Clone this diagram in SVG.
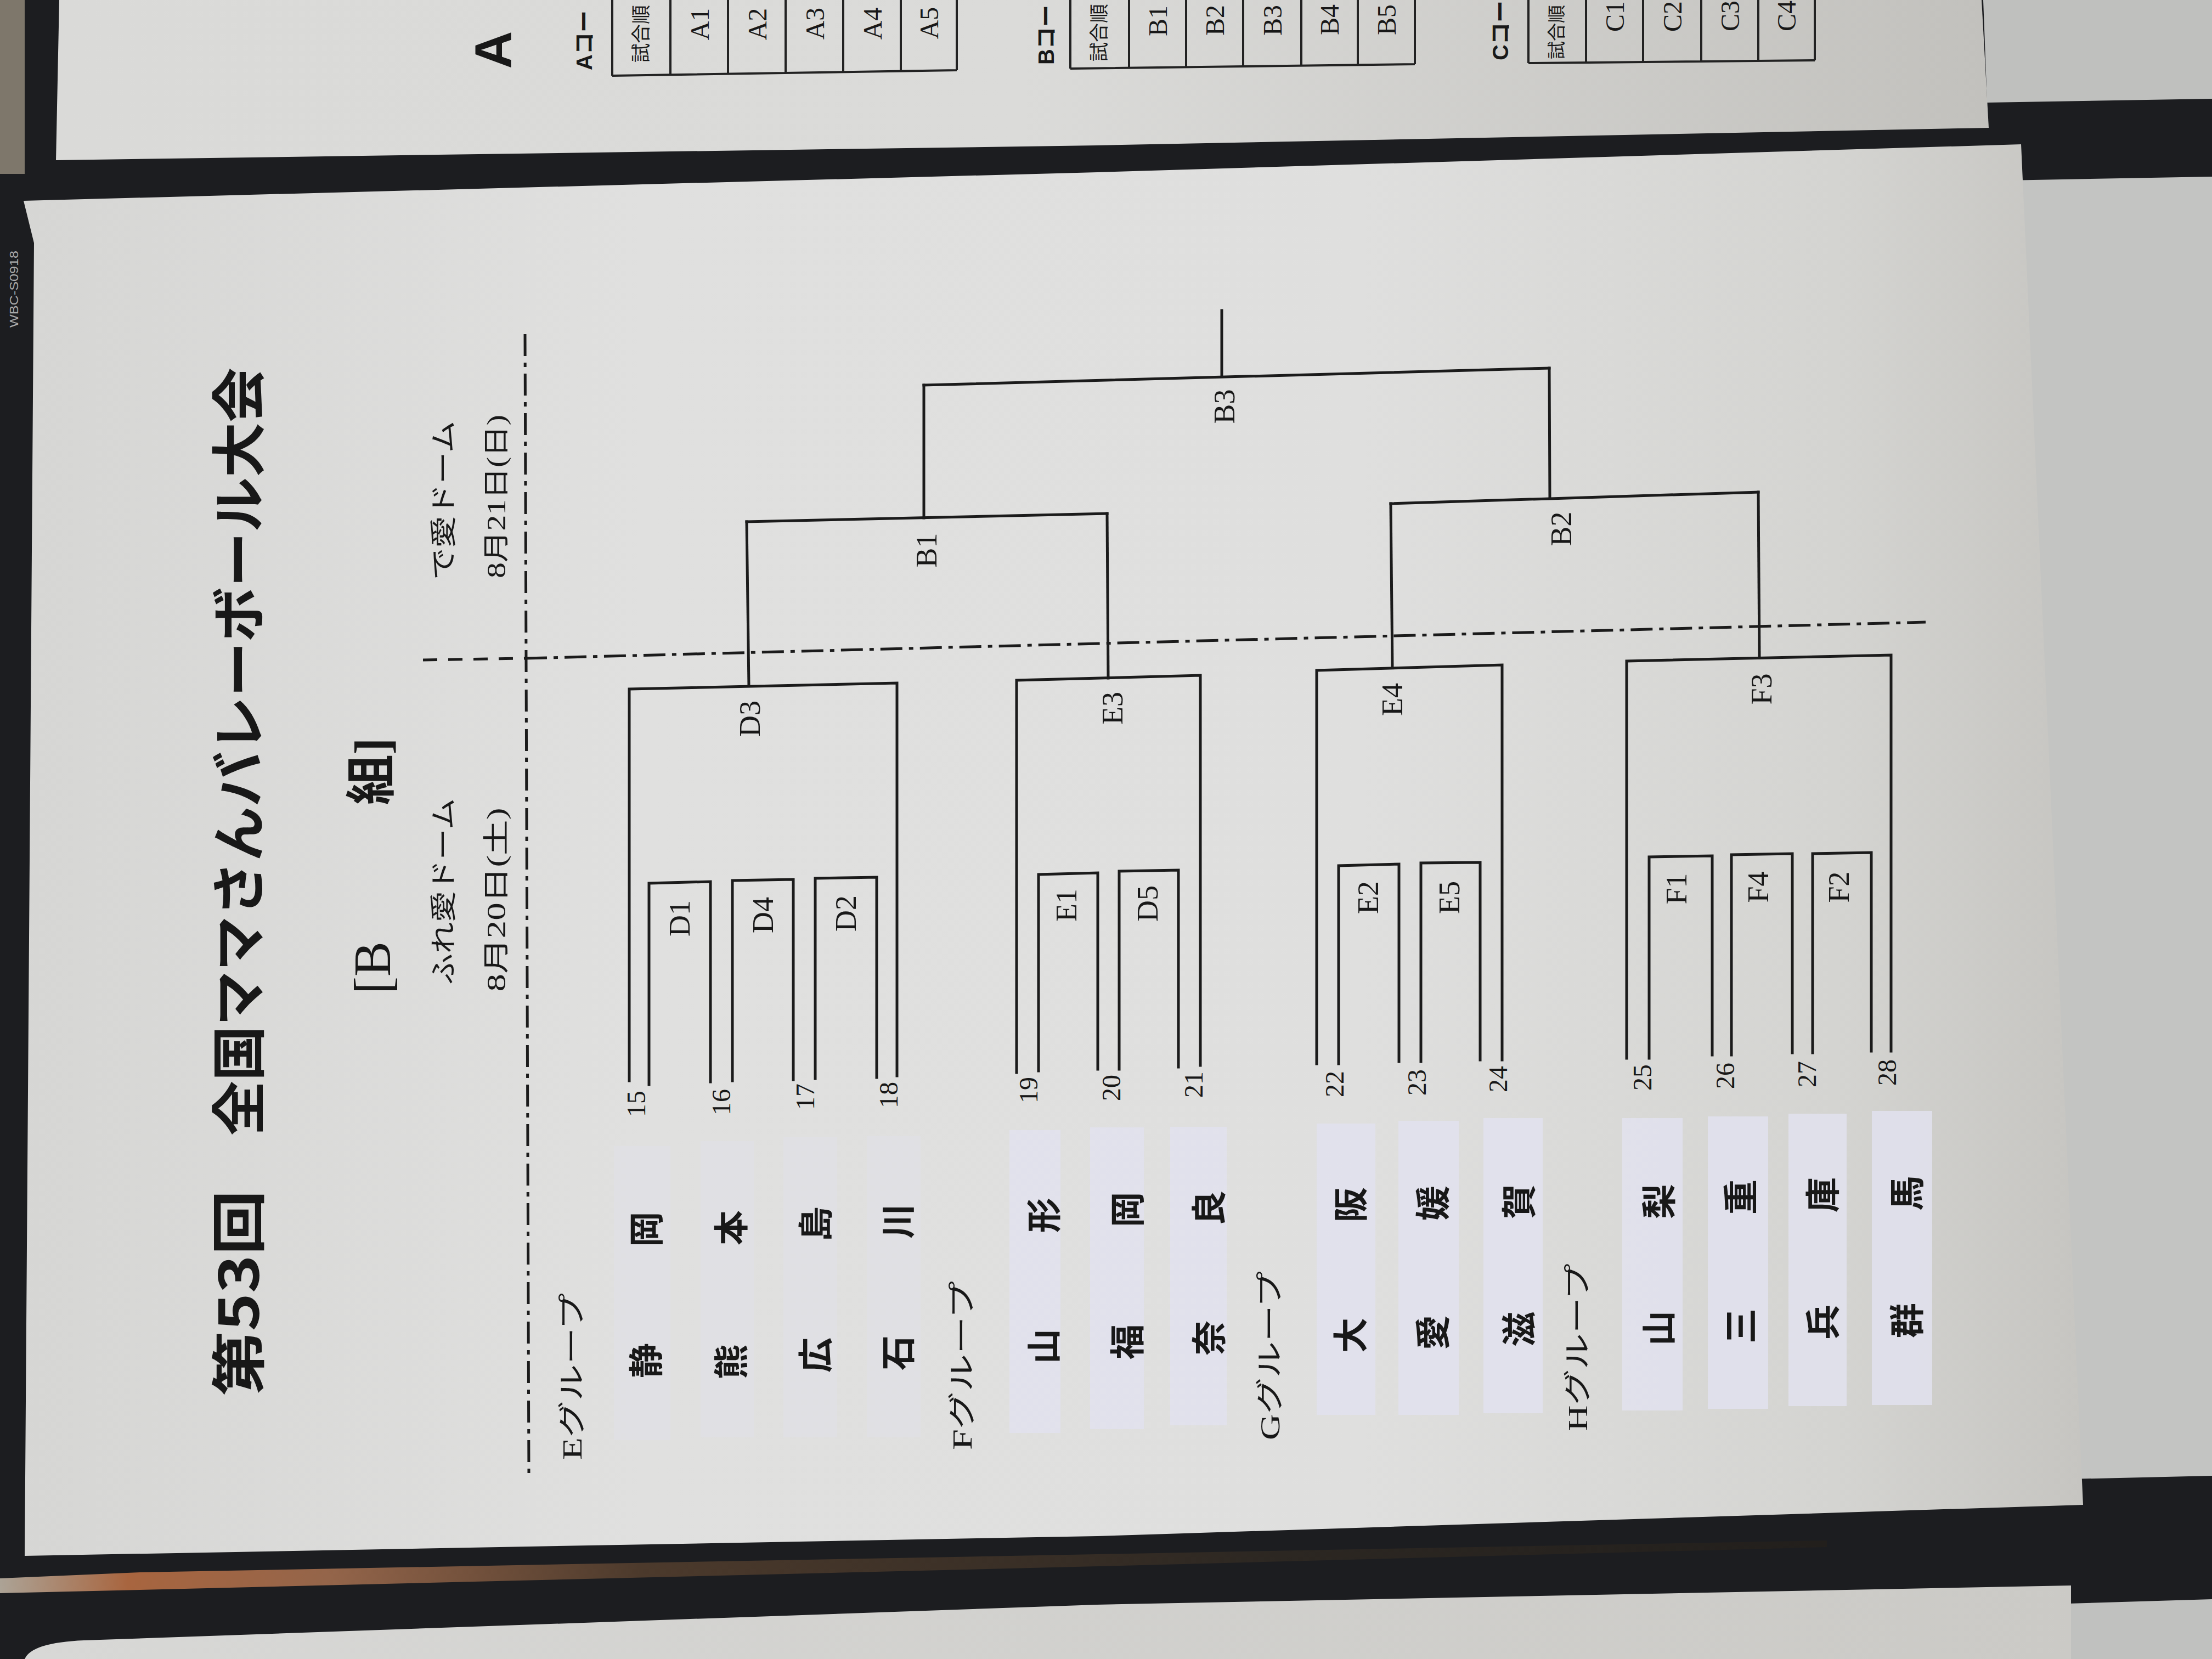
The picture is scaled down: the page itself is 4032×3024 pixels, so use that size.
<svg xmlns="http://www.w3.org/2000/svg" width="4032" height="3024" viewBox="0 0 4032 3024">
<defs>
<linearGradient id="paperG" x1="0" y1="0" x2="1" y2="0">
<stop offset="0" stop-color="#d6d6d4"/><stop offset="0.3" stop-color="#e0e0df"/><stop offset="0.65" stop-color="#dfdfde"/><stop offset="0.88" stop-color="#d4d4d1"/><stop offset="1" stop-color="#c6c5c1"/>
</linearGradient>
<linearGradient id="topG" x1="0" y1="0" x2="1" y2="0">
<stop offset="0" stop-color="#dadad8"/><stop offset="0.5" stop-color="#dbdbd9"/><stop offset="1" stop-color="#c2c1bd"/>
</linearGradient>
<linearGradient id="botG" x1="0" y1="0" x2="1" y2="0">
<stop offset="0" stop-color="#d8d8d6"/><stop offset="1" stop-color="#cbcac6"/>
</linearGradient>
<linearGradient id="reflG" x1="0" y1="0" x2="1" y2="0">
<stop offset="0" stop-color="#aca396"/><stop offset="0.07" stop-color="#a8653f"/><stop offset="0.18" stop-color="#94654a"/><stop offset="0.35" stop-color="#4c3a2c"/><stop offset="0.7" stop-color="#2c2722"/><stop offset="1" stop-color="#221f1c"/>
</linearGradient>
<style>
.ln{stroke:#1b1b1b;stroke-width:5;fill:none;stroke-linejoin:miter;stroke-linecap:square}
.tl{stroke:#222;stroke-width:4;fill:none}
.dd{stroke:#1b1b1b;stroke-width:5;fill:none;stroke-dasharray:40 12 8 12}
.dsh{stroke:#1b1b1b;stroke-width:5;fill:none;stroke-dasharray:26 20}
text{text-anchor:middle;dominant-baseline:central;fill:#181818}
.num{font-family:"Liberation Serif","Noto Sans CJK JP",serif;font-size:48px}
.lab{font-family:"Liberation Serif","Noto Sans CJK JP",serif;font-size:54px}
.nm{font-family:"Noto Sans CJK JP",sans-serif;font-size:64px;font-weight:700}
.grp{font-family:"Liberation Serif","Noto Sans CJK JP",serif;font-size:50px}
.sub{font-family:"Liberation Serif","Noto Sans CJK JP",serif;font-size:48px}
.ttl{font-family:"Noto Sans CJK JP",sans-serif;font-size:100px;font-weight:700}
.cell{font-family:"Liberation Serif","Noto Sans CJK JP",serif;font-size:48px}
.cap{font-family:"Liberation Sans","Noto Sans CJK JP",sans-serif;font-size:40px;font-weight:700;text-anchor:start}
.strip{fill:#e2e2ee;opacity:0.85}
.stripE{fill:#e0e0e7;opacity:0.55}
</style>
</defs>

<!-- background scene -->
<rect x="0" y="0" width="4032" height="3024" fill="#1c1d20"/>
<rect x="0" y="0" width="45" height="317" fill="#7e776b"/>
<polygon points="3615,0 4032,0 4032,180 3622,187" fill="#bfc0be"/>
<polygon points="3600,330 4032,322 4032,2690 3600,2700" fill="#c3c4c2"/>
<polygon points="3700,2925 4032,2915 4032,3024 3700,3024" fill="#c0c1bf"/>
<polygon points="0,2877 255,2866 2000,2833 3330,2808 3330,2820 2000,2855 255,2898 0,2904" fill="url(#reflG)"/>

<!-- top sheet (neighbouring poster) -->
<g id="top-sheet">
<polygon points="108,0 3612,0 3625,233 2000,265 102,292" fill="url(#topG)"/>
<text transform="translate(899,91) rotate(-90)" style="font-family:'Liberation Sans',sans-serif;font-size:95px;font-weight:700">A</text>
<text class="cap" transform="translate(1065,128) rotate(-90)">Aコー</text>
<g id="table-A">
<path class="tl" d="M1116,0 V138 M1222,0 V136 M1327,0 V134 M1432,0 V133 M1537,0 V131 M1642,0 V130 M1744,0 V128 M1116,138 L1744,128"/>
<text class="cell" transform="translate(1169,114) rotate(-90)" style="text-anchor:start;font-size:35px">試合順</text>
<text class="cell" transform="translate(1275,44) rotate(-90)">A1</text>
<text class="cell" transform="translate(1380,44) rotate(-90)">A2</text>
<text class="cell" transform="translate(1485,43) rotate(-90)">A3</text>
<text class="cell" transform="translate(1590,43) rotate(-90)">A4</text>
<text class="cell" transform="translate(1693,42) rotate(-90)">A5</text>
</g>
<text class="cap" transform="translate(1907,118) rotate(-90)">Bコー</text>
<g id="table-B">
<path class="tl" d="M1951,0 V125 M2058,0 V124 M2162,0 V123 M2266,0 V121 M2372,0 V120 M2475,0 V119 M2579,0 V117 M1951,125 L2579,117"/>
<text class="cell" transform="translate(2004,112) rotate(-90)" style="text-anchor:start;font-size:35px">試合順</text>
<text class="cell" transform="translate(2110,38) rotate(-90)">B1</text>
<text class="cell" transform="translate(2214,37) rotate(-90)">B2</text>
<text class="cell" transform="translate(2319,37) rotate(-90)">B3</text>
<text class="cell" transform="translate(2423,36) rotate(-90)">B4</text>
<text class="cell" transform="translate(2527,36) rotate(-90)">B5</text>
</g>
<text class="cap" transform="translate(2735,110) rotate(-90)">Cコー</text>
<g id="table-C">
<path class="tl" d="M2786,0 V115 M2891,0 V114 M2995,0 V113 M3101,0 V112 M3205,0 V111 M3308,0 V110 M2786,115 L3308,110"/>
<text class="cell" transform="translate(2838,108) rotate(-90)" style="text-anchor:start;font-size:33px">試合順</text>
<text class="cell" transform="translate(2943,30) rotate(-90)">C1</text>
<text class="cell" transform="translate(3048,30) rotate(-90)">C2</text>
<text class="cell" transform="translate(3153,29) rotate(-90)">C3</text>
<text class="cell" transform="translate(3256,29) rotate(-90)">C4</text>
</g>
</g>

<!-- left board label -->
<text transform="translate(25,527) rotate(-90)" style="font-family:'Liberation Sans',sans-serif;font-size:22px;fill:#a9a9a9" textLength="140" lengthAdjust="spacingAndGlyphs">WBC-S0918</text>

<!-- bottom sheet -->
<path d="M45,3024 Q58,2994 153,2990 L2000,2925 L3775,2890 L3775,3024 Z" fill="url(#botG)"/>

<!-- main poster -->
<polygon points="43,366 2000,314 3684,263 3797,2743 2000,2800 45,2836 62,443" fill="url(#paperG)"/>

<!-- title and headers -->
<g id="title">
<text class="ttl" transform="translate(428,2357) rotate(-90)" textLength="375" lengthAdjust="spacingAndGlyphs">第53回</text>
<text class="ttl" transform="translate(428,1370) rotate(-90)" textLength="1400" lengthAdjust="spacingAndGlyphs">全国ママさんバレーボール大会</text>
</g>
<g id="block-name">
<text transform="translate(678,1764) rotate(-90)" style="font-family:'Liberation Serif','Noto Sans CJK JP',serif;font-size:96px">[B</text>
<text transform="translate(678,1406) rotate(-90)" style="font-family:'Liberation Serif','Noto Sans CJK JP',serif;font-size:92px;font-weight:700">組]</text>
</g>
<g id="day1">
<text class="sub" transform="translate(808,1625) rotate(-90)" textLength="340" lengthAdjust="spacingAndGlyphs">ふれ愛ドーム</text>
<text class="sub" transform="translate(904,1640) rotate(-90)" textLength="335" lengthAdjust="spacingAndGlyphs">8月20日(土)</text>
</g>
<g id="day2">
<text class="sub" transform="translate(808,912) rotate(-90)" textLength="290" lengthAdjust="spacingAndGlyphs">で愛ドーム</text>
<text class="sub" transform="translate(904,905) rotate(-90)" textLength="298" lengthAdjust="spacingAndGlyphs">8月21日(日)</text>
</g>

<!-- day separators -->
<g id="separators">
<path class="dd" d="M957,609 L964,2690"/>
<path class="dsh" d="M771,1203 L957,1200"/>
<path class="dd" d="M957,1200 L3510,1134"/>
</g>

<!-- group labels -->
<g id="group-E"><text class="grp" transform="translate(1043,2509) rotate(-90)" textLength="304" lengthAdjust="spacingAndGlyphs">Eグループ</text></g>
<g id="group-F"><text class="grp" transform="translate(1754,2489) rotate(-90)" textLength="308" lengthAdjust="spacingAndGlyphs">Fグループ</text></g>
<g id="group-G"><text class="grp" transform="translate(2315,2471) rotate(-90)" textLength="308" lengthAdjust="spacingAndGlyphs">Gグループ</text></g>
<g id="group-H"><text class="grp" transform="translate(2876,2456) rotate(-90)" textLength="306" lengthAdjust="spacingAndGlyphs">Hグループ</text></g>

<!-- teams -->
<g id="team-15"><rect class="stripE" x="1119" y="2089" width="103" height="536"/><text class="nm" transform="translate(1173,2480) rotate(-90)">静</text><text class="nm" transform="translate(1173,2241) rotate(-90)">岡</text><text class="num" transform="translate(1159,2012) rotate(-90)">15</text></g>
<g id="team-16"><rect class="stripE" x="1277" y="2080" width="97" height="540"/><text class="nm" transform="translate(1328,2482) rotate(-90)">熊</text><text class="nm" transform="translate(1328,2238) rotate(-90)">本</text><text class="num" transform="translate(1314,2009) rotate(-90)">16</text></g>
<g id="team-17"><rect class="stripE" x="1428" y="2072" width="98" height="548"/><text class="nm" transform="translate(1482,2470) rotate(-90)">広</text><text class="nm" transform="translate(1482,2231) rotate(-90)">島</text><text class="num" transform="translate(1467,1999) rotate(-90)">17</text></g>
<g id="team-18"><rect class="stripE" x="1580" y="2071" width="98" height="549"/><text class="nm" transform="translate(1632,2466) rotate(-90)">石</text><text class="nm" transform="translate(1632,2226) rotate(-90)">川</text><text class="num" transform="translate(1619,1996) rotate(-90)">18</text></g>
<g id="team-19"><rect class="strip" x="1840" y="2060" width="93" height="552"/><text class="nm" transform="translate(1898,2454) rotate(-90)">山</text><text class="nm" transform="translate(1898,2215) rotate(-90)">形</text><text class="num" transform="translate(1874,1987) rotate(-90)">19</text></g>
<g id="team-20"><rect class="strip" x="1987" y="2055" width="98" height="550"/><text class="nm" transform="translate(2050,2446) rotate(-90)">福</text><text class="nm" transform="translate(2050,2205) rotate(-90)">岡</text><text class="num" transform="translate(2025,1983) rotate(-90)">20</text></g>
<g id="team-21"><rect class="strip" x="2133" y="2054" width="103" height="544"/><text class="nm" transform="translate(2199,2439) rotate(-90)">奈</text><text class="nm" transform="translate(2199,2202) rotate(-90)">良</text><text class="num" transform="translate(2175,1977) rotate(-90)">21</text></g>
<g id="team-22"><rect class="strip" x="2400" y="2048" width="107" height="531"/><text class="nm" transform="translate(2457,2434) rotate(-90)">大</text><text class="nm" transform="translate(2457,2196) rotate(-90)">阪</text><text class="num" transform="translate(2432,1976) rotate(-90)">22</text></g>
<g id="team-23"><rect class="strip" x="2549" y="2043" width="110" height="536"/><text class="nm" transform="translate(2607,2429) rotate(-90)">愛</text><text class="nm" transform="translate(2607,2193) rotate(-90)">媛</text><text class="num" transform="translate(2582,1973) rotate(-90)">23</text></g>
<g id="team-24"><rect class="strip" x="2704" y="2038" width="108" height="538"/><text class="nm" transform="translate(2764,2423) rotate(-90)">滋</text><text class="nm" transform="translate(2764,2190) rotate(-90)">賀</text><text class="num" transform="translate(2730,1967) rotate(-90)">24</text></g>
<g id="team-25"><rect class="strip" x="2957" y="2038" width="110" height="533"/><text class="nm" transform="translate(3019,2421) rotate(-90)">山</text><text class="nm" transform="translate(3019,2190) rotate(-90)">梨</text><text class="num" transform="translate(2993,1964) rotate(-90)">25</text></g>
<g id="team-26"><rect class="strip" x="3113" y="2035" width="110" height="533"/><text class="nm" transform="translate(3168,2417) rotate(-90)">三</text><text class="nm" transform="translate(3168,2182) rotate(-90)">重</text><text class="num" transform="translate(3144,1961) rotate(-90)">26</text></g>
<g id="team-27"><rect class="strip" x="3260" y="2030" width="106" height="533"/><text class="nm" transform="translate(3318,2410) rotate(-90)">兵</text><text class="nm" transform="translate(3318,2178) rotate(-90)">庫</text><text class="num" transform="translate(3293,1958) rotate(-90)">27</text></g>
<g id="team-28"><rect class="strip" x="3412" y="2025" width="110" height="536"/><text class="nm" transform="translate(3471,2407) rotate(-90)">群</text><text class="nm" transform="translate(3471,2175) rotate(-90)">馬</text><text class="num" transform="translate(3439,1955) rotate(-90)">28</text></g>

<!-- matches -->
<g id="match-D1"><path class="ln" d="M1183,1977 L1183,1610 L1295,1607 L1295,1972"/><text class="lab" transform="translate(1239,1674) rotate(-90)">D1</text></g>
<g id="match-D4"><path class="ln" d="M1335,1970 L1335,1605 L1446,1603 L1446,1968"/><text class="lab" transform="translate(1391,1668) rotate(-90)">D4</text></g>
<g id="match-D2"><path class="ln" d="M1486,1966 L1486,1601 L1598,1599 L1598,1964"/><text class="lab" transform="translate(1542,1665) rotate(-90)">D2</text></g>
<g id="match-D3"><path class="ln" d="M1147,1970 L1147,1256 L1635,1245 L1635,1961"/><text class="lab" transform="translate(1367,1310) rotate(-90)">D3</text></g>

<g id="match-E1"><path class="ln" d="M1893,1952 L1893,1594 L2001,1591 L2001,1949"/><text class="lab" transform="translate(1944,1650) rotate(-90)">E1</text></g>
<g id="match-D5"><path class="ln" d="M2040,1949 L2040,1588 L2148,1586 L2148,1945"/><text class="lab" transform="translate(2092,1647) rotate(-90)">D5</text></g>
<g id="match-E3"><path class="ln" d="M1853,1955 L1853,1240 L2188,1231 L2188,1942"/><text class="lab" transform="translate(2028,1291) rotate(-90)">E3</text></g>

<g id="match-E2"><path class="ln" d="M2440,1939 L2440,1578 L2550,1575 L2550,1935"/><text class="lab" transform="translate(2494,1636) rotate(-90)">E2</text></g>
<g id="match-E5"><path class="ln" d="M2590,1935 L2590,1573 L2698,1572 L2698,1932"/><text class="lab" transform="translate(2642,1636) rotate(-90)">E5</text></g>
<g id="match-E4"><path class="ln" d="M2400,1939 L2400,1222 L2738,1212 L2738,1932"/><text class="lab" transform="translate(2538,1275) rotate(-90)">E4</text></g>

<g id="match-F1"><path class="ln" d="M3006,1929 L3006,1562 L3121,1560 L3121,1923"/><text class="lab" transform="translate(3056,1620) rotate(-90)">F1</text></g>
<g id="match-F4"><path class="ln" d="M3156,1923 L3156,1558 L3267,1556 L3267,1919"/><text class="lab" transform="translate(3205,1617) rotate(-90)">F4</text></g>
<g id="match-F2"><path class="ln" d="M3304,1919 L3304,1556 L3411,1554 L3411,1916"/><text class="lab" transform="translate(3352,1617) rotate(-90)">F2</text></g>
<g id="match-F3"><path class="ln" d="M2965,1929 L2965,1205 L3447,1194 L3447,1916"/><text class="lab" transform="translate(3211,1256) rotate(-90)">F3</text></g>

<g id="match-B1"><path class="ln" d="M1361,951 L2018,936"/><text class="lab" transform="translate(1689,1003) rotate(-90)">B1</text></g>
<g id="match-B2"><path class="ln" d="M2535,918 L3205,897"/><text class="lab" transform="translate(2846,964) rotate(-90)">B2</text></g>
<g id="match-B3"><path class="ln" d="M1684,702 L2824,671"/><text class="lab" transform="translate(2232,741) rotate(-90)">B3</text></g>

<!-- connectors -->
<g id="connectors">
<path class="ln" d="M1365,1250 L1361,951"/>
<path class="ln" d="M2020,1236 L2018,936"/>
<path class="ln" d="M2538,1217 L2535,918"/>
<path class="ln" d="M3207,1199 L3205,897"/>
<path class="ln" d="M1684,944 L1684,702"/>
<path class="ln" d="M2825,908 L2824,671"/>
<path class="ln" d="M2227,686 L2227,566"/>
</g>
</svg>
